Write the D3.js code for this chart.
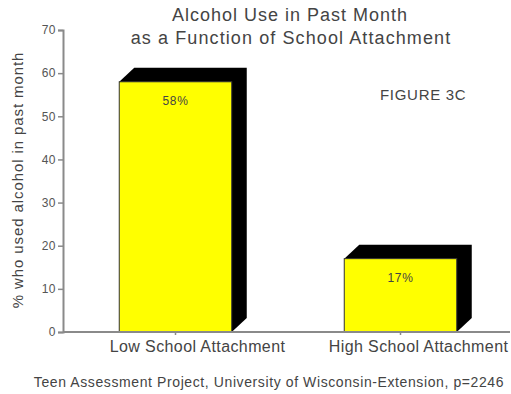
<!DOCTYPE html>
<html>
<head>
<meta charset="utf-8">
<script src="https://cdn.jsdelivr.net/npm/d3@7"></script>
<style>
  body { margin: 0; background: #fff; }
  svg text { font-family: "Liberation Sans", Arial, sans-serif; }
</style>
</head>
<body>
<script>
// data
var categories = ["Low School Attachment", "High School Attachment"];
var values = [58, 17];
var valueLabels = ["58%", "17%"];
var yTicks = [0, 10, 20, 30, 40, 50, 60, 70];

var width = 511, height = 394;
var plotLeft = 63, plotRight = 513, plotTop = 30, plotBottom = 332;
var depthX = 15, depthY = 14;

var svg = d3.select("body").append("svg")
  .attr("width", width)
  .attr("height", height);

var xScale = d3.scaleBand().domain(categories).range([plotLeft, plotRight])
  .paddingInner(0.5).paddingOuter(0.25);
var yScale = d3.scaleLinear().domain([0, 70]).range([plotBottom, plotTop]);

// y axis
var yAxis = d3.axisLeft(yScale).tickValues(yTicks).tickSize(5).tickPadding(2);
var gy = svg.append("g").attr("transform", "translate(" + plotLeft + ",0)").call(yAxis);
gy.select(".domain").attr("stroke", "#8a8a8a").attr("stroke-width", 2);
gy.selectAll(".tick line").attr("stroke", "#8a8a8a").attr("stroke-width", 1.5);
gy.selectAll(".tick text").attr("fill", "#555").style("font-size", "12px")
  .style("letter-spacing", "0.5px");

// bars (3d look)
var bars = svg.append("g").selectAll("g").data(values).enter().append("g");

bars.append("path")
  .attr("fill", "#000")
  .attr("d", function (d, i) {
    var x0 = xScale(categories[i]), x1 = x0 + xScale.bandwidth();
    var y0 = yScale(d), y1 = yScale(0);
    return "M" + x0 + "," + y0 +
      "L" + (x0 + depthX) + "," + (y0 - depthY) +
      "L" + (x1 + depthX) + "," + (y0 - depthY) +
      "L" + (x1 + depthX) + "," + (y1 - depthY) +
      "L" + x1 + "," + y1 + "Z";
  });

bars.append("rect")
  .attr("x", function (d, i) { return xScale(categories[i]); })
  .attr("y", function (d) { return yScale(d); })
  .attr("width", xScale.bandwidth())
  .attr("height", function (d) { return plotBottom - yScale(d); })
  .attr("fill", "#ffff00")
  .attr("stroke", "#333")
  .attr("stroke-width", 1);

bars.append("text")
  .attr("x", function (d, i) { return xScale(categories[i]) + xScale.bandwidth() / 2; })
  .attr("y", function (d) { return yScale(d) + 23; })
  .attr("text-anchor", "middle")
  .attr("fill", "#444")
  .style("font-size", "12px")
  .style("letter-spacing", "0.6px")
  .text(function (d, i) { return valueLabels[i]; });

// x axis (labels sit a little right of the ticks, as in the original)
var xAxis = d3.axisBottom(xScale).tickSize(3).tickPadding(6);
var gx = svg.append("g").attr("transform", "translate(0," + plotBottom + ")").call(xAxis);
gx.select(".domain").attr("stroke", "#8a8a8a").attr("stroke-width", 2)
  .attr("d", "M" + plotLeft + ",0H" + (width - 1));
gx.selectAll(".tick line").attr("stroke", "#8a8a8a").attr("stroke-width", 1.5);
gx.selectAll(".tick text").attr("fill", "#444")
  .attr("dx", function (d, i) { return i === 0 ? 22 : 18; })
  .style("font-size", "16px").style("letter-spacing", "0.4px");

// titles
svg.append("text").attr("x", 290).attr("y", 21).attr("text-anchor", "middle")
  .attr("fill", "#444").style("font-size", "18px").style("letter-spacing", "1px")
  .text("Alcohol Use in Past Month");
svg.append("text").attr("x", 291).attr("y", 44).attr("text-anchor", "middle")
  .attr("fill", "#444").style("font-size", "18px").style("letter-spacing", "1.1px")
  .text("as a Function of School Attachment");

svg.append("text").attr("x", 380).attr("y", 100)
  .attr("fill", "#444").style("font-size", "15px").style("letter-spacing", "0.7px")
  .text("FIGURE 3C");

svg.append("text")
  .attr("transform", "translate(23,180) rotate(-90)")
  .attr("text-anchor", "middle")
  .attr("fill", "#444").style("font-size", "15px").style("letter-spacing", "0.9px")
  .text("% who used alcohol in past month");

svg.append("text").attr("x", 269).attr("y", 387).attr("text-anchor", "middle")
  .attr("fill", "#444").style("font-size", "14px").style("letter-spacing", "0.6px")
  .text("Teen Assessment Project, University of Wisconsin-Extension, p=2246");
</script>
</body>
</html>
